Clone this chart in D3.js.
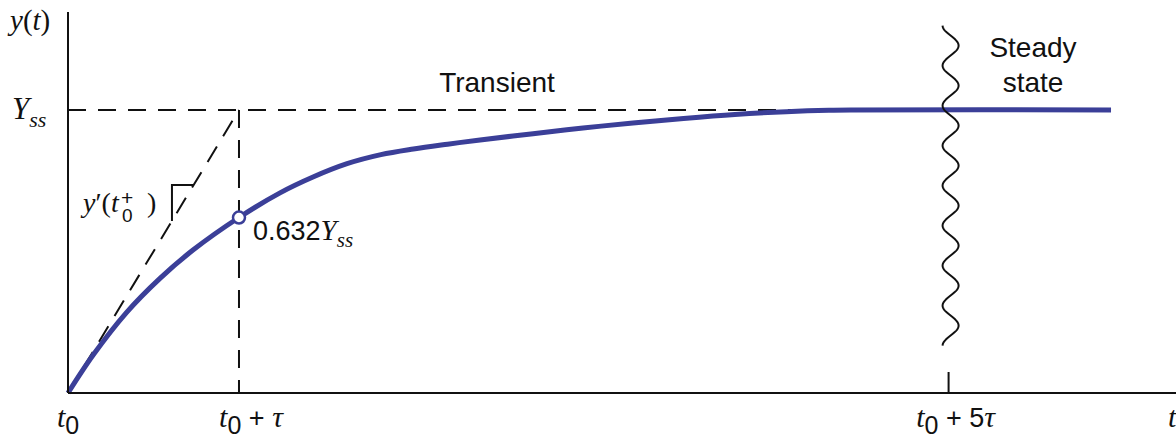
<!DOCTYPE html>
<html>
<head>
<meta charset="utf-8">
<script src="https://cdn.jsdelivr.net/npm/d3@7"></script>
<style>
  html, body { margin: 0; padding: 0; background: #fff; }
  svg { display: block; }
</style>
</head>
<body>
<div id="wrapper"></div>
<script>
// step response, time measured in units of tau after t0, y as fraction of Y_ss
const curveTime  = [0, 0.148, 0.343, 0.538, 0.731, 1.0, 1.24, 1.433, 1.632, 1.83, 2.02, 2.22, 2.41, 2.72, 3.012, 3.304, 3.6, 3.9, 4.2, 4.45, 4.6, 6.1];
const curveValue = [0, 0.135, 0.285, 0.405, 0.505, 0.62, 0.707, 0.763, 0.81, 0.842, 0.862, 0.879, 0.894, 0.916, 0.936, 0.954, 0.970, 0.984, 0.994, 0.999, 1.0, 1.0];

const tickTimes = [0, 1, 5.15];
const tickLabels = [["t", "0"], ["t", "0", " + ", "τ"], ["t", "0", " + 5", "τ"]];
const markerPoint = [1.0, 0.62];     // 0.632 Y_ss point
const yMax = 1.346;
const xMax = 6.48;

const serif = "'Liberation Serif', 'DejaVu Serif', serif";
const sans = "'Liberation Sans', Arial, sans-serif";

function drawChart() {
    const data = curveTime.map((t, i) => ({ t, y: curveValue[i] }));

    const dimensions = {
        width: 1176,
        height: 439,
        margin: { top: 12, right: 0, bottom: 46, left: 68 }
    };
    dimensions.boundedWidth = dimensions.width - dimensions.margin.left - dimensions.margin.right;
    dimensions.boundedHeight = dimensions.height - dimensions.margin.top - dimensions.margin.bottom;

    const wrapper = d3.select("#wrapper")
        .append("svg")
        .attr("width", dimensions.width)
        .attr("height", dimensions.height);

    const bounds = wrapper.append("g")
        .attr("transform", `translate(${dimensions.margin.left},${dimensions.margin.top})`);

    const xScale = d3.scaleLinear()
        .domain([0, xMax])
        .range([0, dimensions.boundedWidth]);

    const yScale = d3.scaleLinear()
        .domain([0, yMax])
        .range([dimensions.boundedHeight, 0]);

    // helper for mixed-font labels
    function richText(x, y, parts, anchor) {
        const text = bounds.append("text")
            .attr("x", x)
            .attr("y", y)
            .attr("fill", "#111")
            .attr("text-anchor", anchor || "start");
        parts.forEach(p => {
            const span = text.append("tspan")
                .text(p.text)
                .attr("font-family", p.serif ? serif : sans)
                .attr("font-style", p.italic ? "italic" : "normal")
                .attr("font-size", p.size);
            if (p.dy) span.attr("dy", p.dy);
            if (p.x !== undefined) span.attr("x", p.x);
        });
        return text;
    }

    // dashed guides
    const dash = "18,12";
    const guides = [
        [[0, 1], [5.15 - 8 / 171, 1]],
        [[1, 1], [1, 0]],
        [[0, 0], [1, 1]]
    ];
    const guideLine = d3.line()
        .x(d => xScale(d[0]))
        .y(d => yScale(d[1]));
    bounds.selectAll(".guide")
        .data(guides)
        .join("path")
        .attr("class", "guide")
        .attr("d", guideLine)
        .attr("fill", "none")
        .attr("stroke", "#111")
        .attr("stroke-width", 2)
        .attr("stroke-dasharray", dash);

    // little slope triangle on the tangent
    const corner = [0.608, 0.735];
    bounds.append("path")
        .attr("d", guideLine([[corner[1], corner[1]], corner, [corner[0], corner[0]]]))
        .attr("fill", "none")
        .attr("stroke", "#111")
        .attr("stroke-width", 2);

    // response curve
    const lineGenerator = d3.line()
        .x(d => xScale(d.t))
        .y(d => yScale(d.y))
        .curve(d3.curveCatmullRom.alpha(0.5));

    bounds.append("path")
        .attr("d", lineGenerator(data))
        .attr("fill", "none")
        .attr("stroke", "#3b3f98")
        .attr("stroke-width", 5)
        .attr("stroke-linecap", "butt");

    // axes
    bounds.append("line")
        .attr("x1", 0).attr("x2", 0)
        .attr("y1", 0).attr("y2", dimensions.boundedHeight)
        .attr("stroke", "#111").attr("stroke-width", 2);
    bounds.append("line")
        .attr("x1", 0).attr("x2", dimensions.boundedWidth)
        .attr("y1", dimensions.boundedHeight).attr("y2", dimensions.boundedHeight)
        .attr("stroke", "#111").attr("stroke-width", 2);

    // tick mark at t0 + 5 tau
    bounds.append("line")
        .attr("x1", xScale(tickTimes[2])).attr("x2", xScale(tickTimes[2]))
        .attr("y1", dimensions.boundedHeight - 21).attr("y2", dimensions.boundedHeight)
        .attr("stroke", "#111").attr("stroke-width", 2);

    // wavy break line between transient and steady state
    const waveX = xScale(tickTimes[2]) + 2;
    const waveTop = yScale(1.298), waveBottom = yScale(0.168);
    const wavePts = d3.range(waveTop, waveBottom + 0.5, 0.5)
        .map(y => [waveX - 8 * Math.cos(2 * Math.PI * (y - waveTop) / 40), y]);
    bounds.append("path")
        .attr("d", d3.line()(wavePts))
        .attr("fill", "none")
        .attr("stroke", "#111")
        .attr("stroke-width", 2);

    // 0.632 marker
    bounds.append("circle")
        .attr("cx", xScale(markerPoint[0]))
        .attr("cy", yScale(markerPoint[1]))
        .attr("r", 6)
        .attr("fill", "#fff")
        .attr("stroke", "#3b3f98")
        .attr("stroke-width", 2.5);

    // tick labels
    const tickOffsets = [0, 12, 7];
    tickLabels.forEach((lab, i) => {
        const parts = [
            { text: "t", serif: true, italic: true, size: 30 },
            { text: "0", size: 25, dy: 7 }
        ];
        if (lab.length > 2) {
            parts.push({ text: lab[2], size: 27, dy: -7 });
            parts.push({ text: lab[3], serif: true, italic: true, size: 30 });
        }
        richText(xScale(tickTimes[i]) + tickOffsets[i], dimensions.boundedHeight + 34, parts, "middle");
    });
    richText(1168 - dimensions.margin.left, dimensions.boundedHeight + 34,
        [{ text: "t", serif: true, italic: true, size: 30 }]);

    // y axis labels
    richText(-58, 18, [
        { text: "y", serif: true, italic: true, size: 29 },
        { text: "(", serif: true, size: 29 },
        { text: "t", serif: true, italic: true, size: 29 },
        { text: ")", serif: true, size: 29 }
    ]);
    richText(-56, yScale(1) + 9, [
        { text: "Y", serif: true, italic: true, size: 31 },
        { text: "ss", serif: true, italic: true, size: 22, dy: 8 }
    ]);

    // annotations
    richText(xScale(markerPoint[0]) + 14, yScale(markerPoint[1]) + 22, [
        { text: "0.632", size: 27 },
        { text: "Y", serif: true, italic: true, size: 29 },
        { text: "ss", serif: true, italic: true, size: 21, dy: 7 }
    ]);
    const tx = 83 - dimensions.margin.left, ty = 212 - dimensions.margin.top;
    richText(tx, ty, [
        { text: "y", serif: true, italic: true, size: 28 },
        { text: "′", serif: true, size: 28 },
        { text: "(", serif: true, size: 28 },
        { text: "t", serif: true, italic: true, size: 28 }
    ]);
    richText(tx + 38, ty - 7, [{ text: "+", size: 21 }]);
    richText(tx + 39, ty + 10, [{ text: "0", size: 19 }]);
    richText(tx + 64, ty, [{ text: ")", serif: true, size: 28 }]);

    richText(497 - dimensions.margin.left, 92 - dimensions.margin.top, [{ text: "Transient", size: 28 }], "middle");
    richText(1033 - dimensions.margin.left, 57 - dimensions.margin.top, [{ text: "Steady", size: 28 }], "middle");
    richText(1033 - dimensions.margin.left, 92 - dimensions.margin.top, [{ text: "state", size: 28 }], "middle");
}

drawChart();
</script>
</body>
</html>
